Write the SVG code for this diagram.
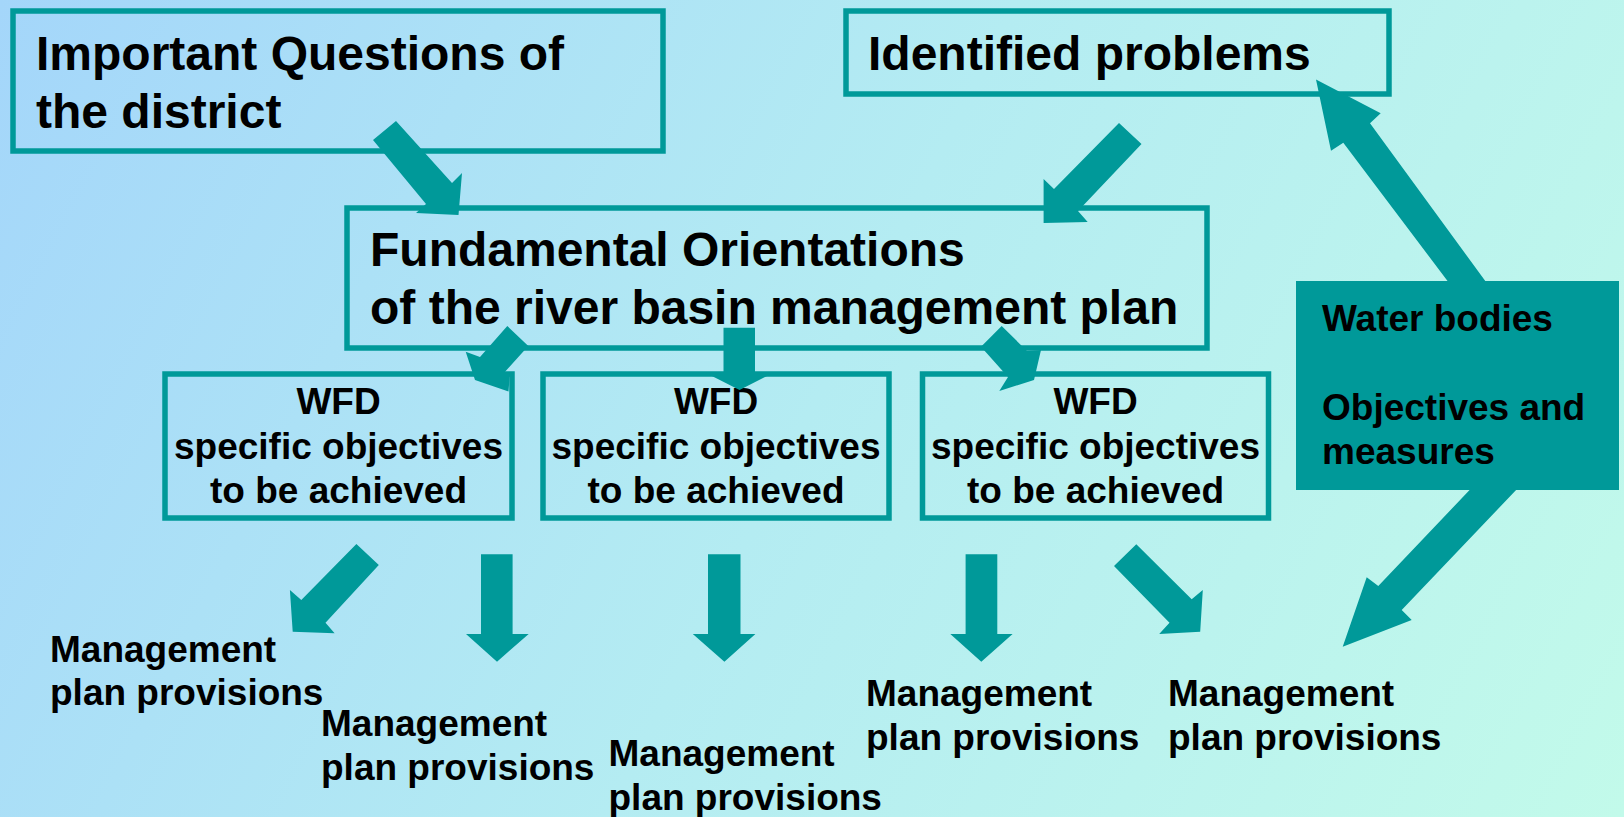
<svg xmlns="http://www.w3.org/2000/svg" width="1624" height="817" viewBox="0 0 1624 817">
  <defs>
    <linearGradient id="bg" gradientUnits="userSpaceOnUse" x1="0" y1="0" x2="1624" y2="817">
      <stop offset="0" stop-color="#a4d6fa"/>
      <stop offset="0.5" stop-color="#b4ecf2"/>
      <stop offset="1" stop-color="#c2faea"/>
    </linearGradient>
  </defs>
  <style>
    .box { fill: none; stroke: #009999; stroke-width: 5.5; }
    .solid { fill: #009999; stroke: none; }
    .arrow { fill: #009999; stroke: none; }
    .big { font-family: "Liberation Sans", Arial, sans-serif; font-weight: bold; font-size: 48px; fill: #000; }
    .small { font-family: "Liberation Sans", Arial, sans-serif; font-weight: bold; font-size: 37px; fill: #000; }
    .mid { text-anchor: middle; }
  </style>

  <rect width="1624" height="817" fill="url(#bg)"/>

  <!-- top-level nodes -->
  <g id="important-questions">
    <rect class="box" x="13" y="11" width="650" height="140"/>
    <text class="big" x="36" y="70">Important Questions of</text>
    <text class="big" x="36" y="128">the district</text>
  </g>

  <g id="identified-problems">
    <rect class="box" x="846" y="11" width="543" height="83"/>
    <text class="big" x="868" y="70">Identified problems</text>
  </g>

  <g id="fundamental-orientations">
    <rect class="box" x="347" y="208" width="860" height="140"/>
    <text class="big" x="370" y="266">Fundamental Orientations</text>
    <text class="big" x="370" y="324">of the river basin management plan</text>
  </g>

  <!-- WFD objective boxes -->
  <g id="wfd-1">
    <rect class="box" x="165" y="374" width="347" height="144"/>
    <text class="small mid" x="338.5" y="414">WFD</text>
    <text class="small mid" x="338.5" y="458.5">specific objectives</text>
    <text class="small mid" x="338.5" y="503">to be achieved</text>
  </g>

  <g id="wfd-2">
    <rect class="box" x="543" y="374" width="346" height="144"/>
    <text class="small mid" x="716" y="414">WFD</text>
    <text class="small mid" x="716" y="458.5">specific objectives</text>
    <text class="small mid" x="716" y="503">to be achieved</text>
  </g>

  <g id="wfd-3">
    <rect class="box" x="922.5" y="374" width="346" height="144"/>
    <text class="small mid" x="1095.5" y="414">WFD</text>
    <text class="small mid" x="1095.5" y="458.5">specific objectives</text>
    <text class="small mid" x="1095.5" y="503">to be achieved</text>
  </g>

  <g id="water-bodies">
    <rect class="solid" x="1296" y="281" width="323" height="209"/>
    <text class="small" x="1322" y="331">Water bodies</text>
    <text class="small" x="1322" y="420">Objectives and</text>
    <text class="small" x="1322" y="464">measures</text>
  </g>

  <!-- management plan provisions -->
  <g id="mpp-1">
    <text class="small" x="50" y="662">Management</text>
    <text class="small" x="50" y="705">plan provisions</text>
  </g>
  <g id="mpp-2">
    <text class="small" x="321" y="736">Management</text>
    <text class="small" x="321" y="780">plan provisions</text>
  </g>
  <g id="mpp-3">
    <text class="small" x="608.5" y="766">Management</text>
    <text class="small" x="608.5" y="810">plan provisions</text>
  </g>
  <g id="mpp-4">
    <text class="small" x="866" y="706">Management</text>
    <text class="small" x="866" y="750">plan provisions</text>
  </g>
  <g id="mpp-5">
    <text class="small" x="1168" y="706">Management</text>
    <text class="small" x="1168" y="750">plan provisions</text>
  </g>

  <!-- block arrows -->
  <g id="connectors">
    <!-- questions -> orientations -->
    <polygon class="arrow" points="396,121 452,183 462,173 458.5,215 416,213 426,204 373,140"/>
    <!-- problems -> orientations -->
    <polygon class="arrow" points="1119,123 1141.5,144 1078,211 1087.7,222 1043.6,223 1043.6,179 1054,189"/>
    <!-- water bodies -> problems -->
    <polygon class="arrow" points="1448.3,282 1343.3,142.7 1331,150.7 1316,79.5 1380.7,113.3 1370,123.3 1486,282"/>
    <!-- orientations -> WFD boxes -->
    <polygon class="arrow" points="507.3,326 528.3,346 503,374 510,372 508.5,391.5 475,380 465.7,351.7 480,357"/>
    <polygon class="arrow" points="723.5,327.7 755,327.7 755,373 773,373 739.5,390 706,373 723.5,373"/>
    <polygon class="arrow" points="1001.7,326 1027,351 1041,350 1034,380 999.3,391 1008,377 981,346.7"/>
    <!-- WFD boxes -> provisions -->
    <polygon class="arrow" points="356.4,544 378.8,565 325.5,622.7 334.6,633.3 292.7,631.7 289.9,590 301.3,600"/>
    <polygon class="arrow" points="481,554.3 512.6,554.3 512.6,634 528.7,634 497,661.7 466,634 481,634"/>
    <polygon class="arrow" points="708,554.3 740.5,554.3 740.5,634 755.4,634 724.4,661.7 692.8,634 708,634"/>
    <polygon class="arrow" points="965.6,554.3 997.3,554.3 997.3,634 1012.6,634 981.3,661.7 950.3,634 965.6,634"/>
    <polygon class="arrow" points="1136.3,544.3 1191.7,599.3 1202.8,590 1200.2,631.7 1159.2,634 1169.5,622.7 1114,566"/>
    <!-- water bodies -> provisions -->
    <polygon class="arrow" points="1471.5,488 1518,488 1401.7,610 1411.7,620 1342.7,646.7 1366.7,577.3 1378.3,586"/>
  </g>
</svg>
